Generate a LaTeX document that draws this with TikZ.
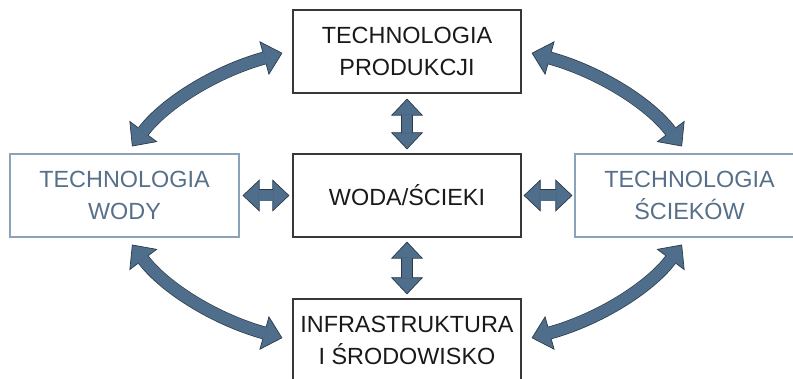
\documentclass[tikz,border=0pt]{standalone}
\usepackage{fontspec}
\setmainfont{Liberation Sans}
\usetikzlibrary{arrows.meta,calc}

\definecolor{arrfill}{RGB}{79,110,140}
\definecolor{arrline}{RGB}{44,58,72}
\definecolor{sideline}{RGB}{140,162,184}
\definecolor{sidetext}{RGB}{86,112,138}
\definecolor{coreline}{RGB}{55,55,55}
\definecolor{coretext}{RGB}{25,25,25}

\tikzset{
  x=1pt, y=-1pt,
  box/.style={rectangle, minimum width=228pt, minimum height=83pt,
    inner sep=0pt, align=center, font=\fontsize{23.4}{32}\selectfont},
  corebox/.style={box, draw=coreline, line width=1.2pt, text=coretext},
  sidebox/.style={box, minimum width=229pt, draw=sideline, line width=1.1pt, text=sidetext},
  fathead/.tip={Triangle[length=17pt,width=32pt,line width=0.7pt 0 1,fill=arrfill]},
  bighead/.tip={Triangle[length=19pt,width=35pt,line width=0.7pt 0 1,fill=arrfill]},
  linkedge/.style={draw=arrline, line width=12pt, fathead-fathead},
  linkcore/.style={draw=arrfill, line width=10.6pt, shorten <=16pt, shorten >=16pt},
  arcedge/.style={draw=arrline, line width=13pt, bighead-bighead},
  arccore/.style={draw=arrfill, line width=11.6pt, shorten <=18pt, shorten >=18pt},
}

% broad two-headed arrows: dark outline first, then the light core on top
\newcommand\drawfatlink[1]{\draw[linkedge] #1; \draw[linkcore] #1;}
\newcommand\drawfatarc[1]{\draw[arcedge] #1; \draw[arccore] #1;}

\begin{document}
\begin{tikzpicture}
\useasboundingbox (0,0) rectangle (793,379);
\clip (0,0) rectangle (793,379);

% boxes
\node[corebox] (prod)    at (407,51.5)  {TECHNOLOGIA\\PRODUKCJI};
\node[corebox] (woda)    at (407,195.5) {WODA/ŚCIEKI};
\node[corebox] (infra)   at (407,340.5) {INFRASTRUKTURA\\I ŚRODOWISKO};
\node[sidebox] (wody)    at (124.5,195.5) {TECHNOLOGIA\\WODY};
\node[sidebox] (sciekow) at (689.5,195.5) {TECHNOLOGIA\\ŚCIEKÓW};

% straight links around the central box
\drawfatlink{($(prod.south)+(0,5)$) -- ($(woda.north)+(0,-4)$)}
\drawfatlink{($(woda.south)+(0,4)$) -- ($(infra.north)+(0,-4)$)}
\drawfatlink{($(wody.east)+(3,0)$) -- ($(woda.west)+(-3,0)$)}
\drawfatlink{($(woda.east)+(2,0)$) -- ($(sciekow.west)+(-2,0)$)}

% curved links between the outer boxes
\drawfatarc{($(wody.north)+(7.5,-7)$) .. controls (164,104) and (214,72) .. ($(prod.west)+(-10,1.5)$)}
\drawfatarc{($(sciekow.north)+(-7.5,-7)$) .. controls (650,104) and (600,72) .. ($(prod.east)+(10,1.5)$)}
\drawfatarc{($(wody.south)+(7.5,7)$) .. controls (164,287) and (214,319) .. ($(infra.west)+(-10,-2.5)$)}
\drawfatarc{($(sciekow.south)+(-7.5,7)$) .. controls (650,287) and (600,319) .. ($(infra.east)+(10,-2.5)$)}
\end{tikzpicture}
\end{document}
